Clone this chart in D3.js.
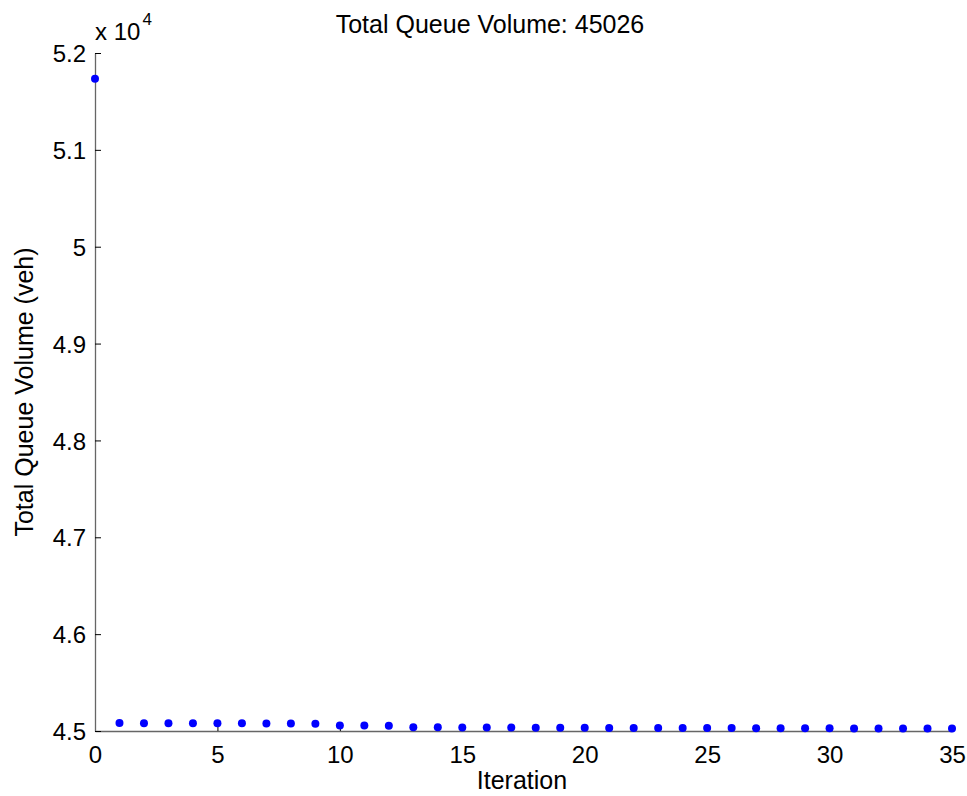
<!DOCTYPE html>
<html>
<head>
<meta charset="utf-8">
<script src="https://cdn.jsdelivr.net/npm/d3@7"></script>
<style>
  html, body { margin: 0; padding: 0; background: #fff; }
  svg { display: block; font-family: "Liberation Sans", Arial, sans-serif; }
</style>
</head>
<body>
<svg id="chart" width="967" height="796"></svg>
<script>
// Total queue volume per iteration (veh)
const iterations = d3.range(0, 36);
const queueVolume = [
  51735, 45082, 45081, 45081, 45080, 45080, 45079, 45078, 45077, 45076,
  45058, 45056, 45055, 45040, 45038, 45037, 45036, 45035, 45034, 45034,
  45033, 45032, 45032, 45031, 45031, 45030, 45030, 45029, 45029, 45028,
  45028, 45027, 45027, 45027, 45026, 45026
];
const xTicks = [0, 5, 10, 15, 20, 25, 30, 35];
const yTicks = [45000, 46000, 47000, 48000, 49000, 50000, 51000, 52000];
const yTickLabels = ["4.5", "4.6", "4.7", "4.8", "4.9", "5", "5.1", "5.2"];

const svg = d3.select("#chart");
const plotLeft = 95, plotRight = 952, plotTop = 53, plotBottom = 731;

const x = d3.scaleLinear().domain([0, 35]).range([plotLeft, plotRight]);
const y = d3.scaleLinear().domain([45000, 52000]).range([plotBottom, plotTop]);

const tickFont = 24, labelFont = 25;

// x axis
const xAxis = svg.append("g").attr("transform", `translate(0,${plotBottom})`)
  .call(d3.axisBottom(x).tickValues(xTicks).tickSizeInner(-6).tickSizeOuter(0).tickPadding(15)
    .tickFormat(d3.format("d")));
xAxis.select(".domain").attr("stroke", "#666").attr("stroke-width", 1.3);
xAxis.selectAll(".tick line").attr("stroke", "#000");
xAxis.selectAll(".tick text").attr("font-size", tickFont).attr("fill", "#000")
  .attr("font-family", "Liberation Sans, Arial, sans-serif");

// y axis
const yAxis = svg.append("g").attr("transform", `translate(${plotLeft},0)`)
  .call(d3.axisLeft(y).tickValues(yTicks).tickSizeInner(-6).tickSizeOuter(0).tickPadding(9)
    .tickFormat((d, i) => yTickLabels[i]));
yAxis.select(".domain").attr("stroke", "#666").attr("stroke-width", 1.3);
yAxis.selectAll(".tick line").attr("stroke", "#000");
yAxis.selectAll(".tick text").attr("font-size", tickFont).attr("fill", "#000")
  .attr("font-family", "Liberation Sans, Arial, sans-serif")
  .attr("dy", "0.36em");

// exponent label above the y axis
const expo = svg.append("text").attr("x", plotLeft).attr("y", 40)
  .attr("font-size", tickFont).attr("fill", "#000");
expo.append("tspan").text("x 10");
expo.append("tspan").attr("font-size", 17).attr("dy", -15).attr("dx", 2).text("4");

// data points
svg.append("g").selectAll("circle")
  .data(iterations)
  .join("circle")
  .attr("cx", d => x(d))
  .attr("cy", d => y(queueVolume[d]))
  .attr("r", 4)
  .attr("fill", "#0000ff");

// title
svg.append("text").attr("x", 490).attr("y", 33).attr("text-anchor", "middle")
  .attr("font-size", labelFont).attr("fill", "#000")
  .text("Total Queue Volume: " + queueVolume[queueVolume.length - 1]);

// axis labels
svg.append("text").attr("x", 522).attr("y", 789).attr("text-anchor", "middle")
  .attr("font-size", labelFont).attr("fill", "#000").text("Iteration");
svg.append("text").attr("transform", `translate(33,${(plotTop + plotBottom) / 2}) rotate(-90)`)
  .attr("text-anchor", "middle")
  .attr("font-size", labelFont).attr("fill", "#000").text("Total Queue Volume (veh)");
</script>
</body>
</html>
